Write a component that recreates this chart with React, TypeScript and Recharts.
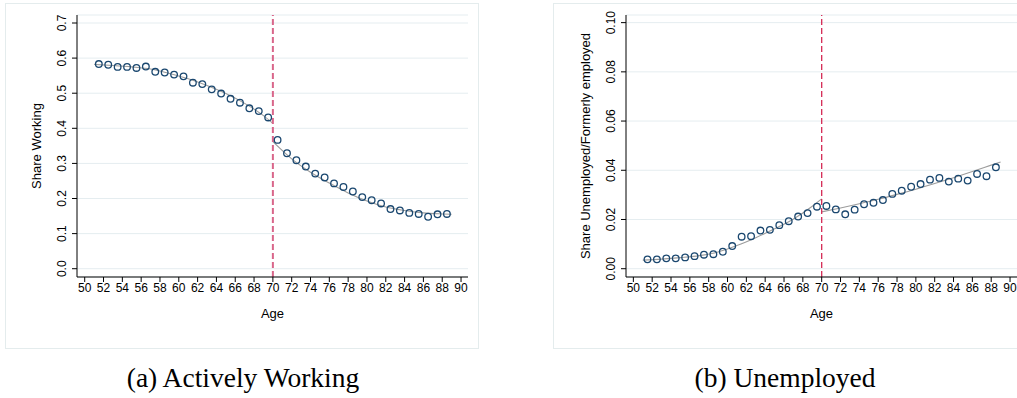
import React from "react";
import {
  CartesianGrid,
  ComposedChart,
  Line,
  ReferenceLine,
  Scatter,
  XAxis,
  YAxis,
} from "recharts";

// binned ages on each side of the cutoff at 70
const agesBefore = [
  51.5, 52.5, 53.5, 54.5, 55.5, 56.5, 57.5, 58.5, 59.5, 60.5, 61.5, 62.5, 63.5,
  64.5, 65.5, 66.5, 67.5, 68.5, 69.5,
];
const agesAfter = [
  70.5, 71.5, 72.5, 73.5, 74.5, 75.5, 76.5, 77.5, 78.5, 79.5, 80.5, 81.5, 82.5,
  83.5, 84.5, 85.5, 86.5, 87.5, 88.5,
];

// share actively working
const workingBefore = [
  0.583, 0.581, 0.575, 0.575, 0.572, 0.576, 0.561, 0.559, 0.553, 0.548, 0.53,
  0.526, 0.511, 0.499, 0.484, 0.473, 0.457, 0.449, 0.431,
];
const workingAfter = [
  0.367, 0.329, 0.309, 0.291, 0.271, 0.26, 0.243, 0.233, 0.22, 0.204, 0.195,
  0.186, 0.17, 0.166, 0.159, 0.156, 0.148, 0.155, 0.156,
];

// share unemployed / formerly employed
const unempBefore = [
  0.0038, 0.0038, 0.0042, 0.0042, 0.0046, 0.0051, 0.0057, 0.0059, 0.0069,
  0.0092, 0.013, 0.0132, 0.0155, 0.0158, 0.0177, 0.0193, 0.0212, 0.0226,
  0.0252,
];
const unempAfter = [
  0.0255, 0.0241, 0.0221, 0.024, 0.0262, 0.0268, 0.0279, 0.0304, 0.0317,
  0.0333, 0.0344, 0.0362, 0.0369, 0.0354, 0.0366, 0.0358, 0.0385, 0.0376,
  0.0412,
];

// fitted polynomial on each side
const fitAgesBefore = [51, 53, 55, 57, 59, 61, 63, 65, 67, 69, 70];
const fitAgesAfter = [70, 72, 74, 76, 78, 80, 82, 84, 86, 88, 89];
const workingFitBefore = [
  0.582, 0.579, 0.575, 0.569, 0.556, 0.541, 0.522, 0.499, 0.471, 0.436, 0.414,
];
const workingFitAfter = [
  0.362, 0.313, 0.275, 0.244, 0.216, 0.193, 0.176, 0.166, 0.159, 0.156, 0.155,
];
const unempFitBefore = [
  0.0035, 0.0039, 0.0045, 0.0053, 0.0068, 0.0094, 0.0126, 0.0162, 0.0202,
  0.0254, 0.0284,
];
const unempFitAfter = [
  0.0231, 0.0247, 0.0264, 0.0282, 0.0302, 0.0323, 0.0346, 0.037, 0.0395,
  0.0421, 0.0434,
];

const ageTicks = [
  50, 52, 54, 56, 58, 60, 62, 64, 66, 68, 70, 72, 74, 76, 78, 80, 82, 84, 86,
  88, 90,
];
const workingTicks = [0, 0.1, 0.2, 0.3, 0.4, 0.5, 0.6, 0.7];
const unempTicks = [0, 0.02, 0.04, 0.06, 0.08, 0.1];

const cutoff = 70;

const SANS = "'Liberation Sans', Arial, Helvetica, sans-serif";
const NAVY = "#1a476f";

const rows = (ages: number[], vals: number[]) =>
  ages.map((age, i) => ({ age, share: vals[i] }));

const Hollow = (p: any) => (
  <circle cx={p.cx} cy={p.cy} r={3.3} fill="none" stroke={NAVY} strokeWidth={1.3} />
);

const VTick = (p: any) => {
  const x = p.x - 3.5;
  return (
    <text
      x={x}
      y={p.y}
      transform={`rotate(-90 ${x} ${p.y})`}
      textAnchor="middle"
      fontSize={12}
      fontFamily={SANS}
      fill="#000"
    >
      {Number(p.payload.value).toFixed(p.digits)}
    </text>
  );
};

const YTitle = (text: string) => (p: any) => {
  const vb = p.viewBox;
  const x = vb.x + vb.width - 36;
  const y = vb.y + vb.height / 2;
  return (
    <text
      x={x}
      y={y}
      transform={`rotate(-90 ${x} ${y})`}
      textAnchor="middle"
      fontSize={13}
      fontFamily={SANS}
      fill="#000"
    >
      {text}
    </text>
  );
};

const XTitle = (p: any) => {
  const vb = p.viewBox;
  return (
    <text
      x={vb.x + vb.width / 2}
      y={vb.y + 41}
      textAnchor="middle"
      fontSize={13}
      fontFamily={SANS}
      fill="#000"
    >
      Age
    </text>
  );
};

type PanelProps = {
  width: number;
  marginLeft: number;
  marginRight: number;
  before: { age: number; share: number }[];
  after: { age: number; share: number }[];
  fitBefore: { age: number; share: number }[];
  fitAfter: { age: number; share: number }[];
  xDomain: [number, number];
  yDomain: [number, number];
  yTicks: number[];
  digits: number;
  title: string;
  cutColor: string;
  cutWidth: number;
};

function RDPanel(props: PanelProps) {
  return (
    <ComposedChart
      width={props.width}
      height={348}
      margin={{ top: 15, right: props.marginRight, bottom: 41, left: props.marginLeft }}
    >
      <CartesianGrid vertical={false} stroke="#e5edf0" strokeWidth={1} />
      <XAxis
        type="number"
        dataKey="age"
        domain={props.xDomain}
        ticks={ageTicks}
        allowDataOverflow
        height={30}
        tickSize={5}
        tickMargin={1}
        stroke="#000"
        tick={{ fontSize: 12, fontFamily: SANS, fill: "#000" }}
        label={{ content: XTitle }}
      />
      <YAxis
        type="number"
        domain={props.yDomain}
        ticks={props.yTicks}
        allowDataOverflow
        width={40}
        tickSize={5}
        tickMargin={2}
        stroke="#000"
        tick={(p: any) => <VTick {...p} digits={props.digits} />}
        label={{ content: YTitle(props.title) }}
      />
      <Line
        data={props.fitBefore}
        dataKey="share"
        type="monotone"
        stroke="#9c9c9c"
        strokeWidth={1.1}
        dot={false}
        isAnimationActive={false}
      />
      <Line
        data={props.fitAfter}
        dataKey="share"
        type="monotone"
        stroke="#9c9c9c"
        strokeWidth={1.1}
        dot={false}
        isAnimationActive={false}
      />
      <Scatter data={props.before} dataKey="share" shape={Hollow} isAnimationActive={false} />
      <Scatter data={props.after} dataKey="share" shape={Hollow} isAnimationActive={false} />
      <ReferenceLine
        x={cutoff}
        stroke={props.cutColor}
        strokeWidth={props.cutWidth}
        strokeDasharray="6 3"
      />
    </ComposedChart>
  );
}

const frame: React.CSSProperties = {
  position: "absolute",
  top: 3,
  width: 472,
  height: 344,
  border: "1px solid #e4eced",
  boxSizing: "content-box",
};

const caption: React.CSSProperties = {
  position: "absolute",
  top: 364,
  width: 400,
  textAlign: "center",
  fontFamily: "'Liberation Serif', 'Times New Roman', serif",
  fontSize: 27.5,
  lineHeight: 1,
  color: "#000",
  whiteSpace: "nowrap",
};

export default function App() {
  return (
    <div
      style={{
        position: "absolute",
        left: 0,
        top: 0,
        width: 1017,
        height: 398,
        background: "#fff",
        overflow: "hidden",
      }}
    >
      <div style={{ ...frame, left: 5 }} />
      <div style={{ ...frame, left: 553 }} />
      <div style={{ position: "absolute", left: 0, top: 0 }}>
        <RDPanel
          width={480}
          marginLeft={37}
          marginRight={12}
          before={rows(agesBefore, workingBefore)}
          after={rows(agesAfter, workingAfter)}
          fitBefore={rows(fitAgesBefore, workingFitBefore)}
          fitAfter={rows(fitAgesAfter, workingFitAfter)}
          xDomain={[49.18, 90.74]}
          yDomain={[-0.0236, 0.7228]}
          yTicks={workingTicks}
          digits={1}
          title="Share Working"
          cutColor="#d9668a"
          cutWidth={2}
        />
      </div>
      <div style={{ position: "absolute", left: 553, top: 0 }}>
        <RDPanel
          width={464}
          marginLeft={33}
          marginRight={0}
          before={rows(agesBefore, unempBefore)}
          after={rows(agesAfter, unempAfter)}
          fitBefore={rows(fitAgesBefore, unempFitBefore)}
          fitAfter={rows(fitAgesAfter, unempFitAfter)}
          xDomain={[49.22, 90.74]}
          yDomain={[-0.00337, 0.1031]}
          yTicks={unempTicks}
          digits={2}
          title="Share Unemployed/Formerly employed"
          cutColor="#d42a55"
          cutWidth={1.3}
        />
      </div>
      <div style={{ ...caption, left: 243 - 200 }}>(a) Actively Working</div>
      <div style={{ ...caption, left: 785 - 200 }}>(b) Unemployed</div>
    </div>
  );
}
